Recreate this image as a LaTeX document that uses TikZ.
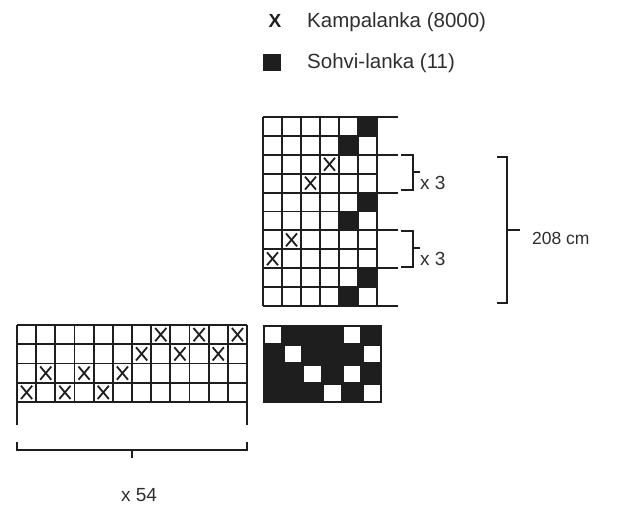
\documentclass[tikz,border=0pt]{standalone}
\usepackage{fontspec}
\setmainfont{Liberation Sans}
\definecolor{ink}{HTML}{1E1E1E}
\definecolor{txt}{HTML}{2E2E2E}
\begin{document}
\begin{tikzpicture}[x=1pt,y=-1pt,
  gl/.style={draw=ink,line width=1.9pt},
  xm/.style={draw=ink,line width=1.8pt},
  br/.style={draw=ink,line width=1.5pt},
  lbl/.style={font=\fontsize{19}{22}\selectfont, text=txt, inner sep=0pt}]
\useasboundingbox (0,0) rectangle (618,506);
% ---------- legend ----------
\node[font=\fontsize{19}{22}\selectfont\bfseries, text=ink, inner sep=0pt] (legx) at (275,21) {X};
\node[lbl, font=\fontsize{20.5}{24}\selectfont, anchor=west] (legxt) at (307,22) {Kampalanka (8000)};
\fill[ink] (263,54) rectangle (281,71);
\node[lbl, font=\fontsize{20.5}{24}\selectfont, anchor=west] (legst) at (307,63) {Sohvi-lanka (11)};
% ---------- top-right grid ----------
\def\tx{263}\def\ty{117}\def\tw{19}\def\th{18.9}
\foreach \r/\c in {1/6,2/5,5/6,6/5,9/6,10/5}
  \fill[ink] ({\tx+(\c-1)*\tw},{\ty+(\r-1)*\th}) rectangle ++(\tw,\th);
\foreach \r/\c in {3/4,4/3,7/2,8/1} {
  \draw[xm] ({\tx+(\c-1)*\tw+4},{\ty+(\r-1)*\th+3}) -- ++(\tw-8,\th-6);
  \draw[xm] ({\tx+\c*\tw-4},{\ty+(\r-1)*\th+3}) -- ++(-\tw+8,\th-6);
}
\foreach \i in {0,...,6} \draw[gl] ({\tx+\i*\tw},\ty) -- ({\tx+\i*\tw},{\ty+10*\th});
\foreach \i in {1,3,5,7,9} \draw[gl] (\tx,{\ty+\i*\th}) -- ({\tx+6*\tw},{\ty+\i*\th});
\foreach \i in {0,2,4,6,8,10} \draw[gl] (\tx,{\ty+\i*\th}) -- (398,{\ty+\i*\th});
% small brackets
\draw[br] (401,155) -- (413,155) -- (413,190) -- (401,190);
\draw[br] (413,172) -- (420,172);
\node[lbl, anchor=west] (r1) at (420,183) {x 3};
\draw[br] (401,231) -- (413,231) -- (413,267) -- (401,267);
\draw[br] (413,248) -- (420,248);
\node[lbl, anchor=west] (r2) at (420,259) {x 3};
% big bracket
\draw[br] (497,157) -- (507,157) -- (507,303) -- (497,303);
\draw[br] (507,230) -- (520,230);
\node[lbl, font=\fontsize{17.5}{21}\selectfont, anchor=west] (len) at (532,238) {208 cm};
% ---------- bottom-right block ----------
\def\bx{263}\def\by{325}\def\bw{19.83}\def\bh{19.5}
\fill[ink] (\bx,\by) rectangle ({\bx+6*\bw},{\by+4*\bh});
\foreach \r/\c in {1/1,1/5,2/2,2/6,3/3,3/5,4/4,4/6}
  \fill[white] ({\bx+(\c-1)*\bw+1.8},{\by+(\r-1)*\bh+1.8}) rectangle ++(\bw-3.6,\bh-3.6);
% ---------- bottom-left grid ----------
\def\lx{17}\def\ly{325}\def\lw{19.17}\def\lh{19.25}
\foreach \r/\c in {1/8,1/10,1/12,2/7,2/9,2/11,3/2,3/4,3/6,4/1,4/3,4/5} {
  \draw[xm] ({\lx+(\c-1)*\lw+4},{\ly+(\r-1)*\lh+3}) -- ++(\lw-8,\lh-6);
  \draw[xm] ({\lx+\c*\lw-4},{\ly+(\r-1)*\lh+3}) -- ++(-\lw+8,\lh-6);
}
\foreach \i in {1,...,11} \draw[gl] ({\lx+\i*\lw},\ly) -- ({\lx+\i*\lw},{\ly+4*\lh});
\foreach \i in {0,12} \draw[gl] ({\lx+\i*\lw},\ly) -- ({\lx+\i*\lw},425);
\foreach \i in {0,...,4} \draw[gl] (\lx,{\ly+\i*\lh}) -- ({\lx+12*\lw},{\ly+\i*\lh});
% bottom bracket
\draw[br] (\lx,442) -- (\lx,450) -- ({\lx+12*\lw},450) -- ({\lx+12*\lw},442);
\draw[br] (132,450) -- (132,458);
\node[lbl] (rep) at (139,495) {x 54};
\end{tikzpicture}
\end{document}
